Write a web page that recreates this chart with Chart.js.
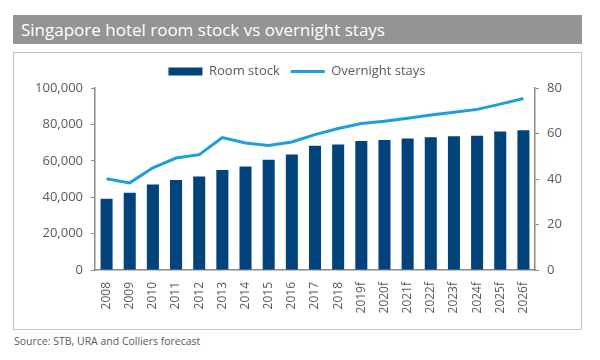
<!DOCTYPE html>
<html>
<head>
<meta charset="utf-8">
<script src="https://cdn.jsdelivr.net/npm/chart.js@4"></script>
<style>
  body { margin: 0; width: 600px; height: 360px; background: #fff; font-family: "Open Sans", sans-serif; position: relative; overflow: hidden; }
  .titleband { position: absolute; left: 13px; top: 15px; width: 569px; height: 29px; background: #949494; color: #fff; font-size: 17px; line-height: 29px; padding-left: 8px; box-sizing: border-box; }
  .box { position: absolute; left: 13px; top: 52px; width: 569px; height: 278px; border: 1.5px solid #c4c4c4; box-sizing: border-box; }
  .box canvas { position: absolute; left: 0; top: 0; }
  .source { position: absolute; left: 14px; top: 334px; font-size: 10.5px; color: #595959; }
</style>
</head>
<body>
<div class="titleband">Singapore hotel room stock vs overnight stays</div>
<div class="box"><canvas id="chart" width="566" height="275"></canvas></div>
<div class="source">Source: STB, URA and Colliers forecast</div>
<script>
// datos
const years = ['2008', '2009', '2010', '2011', '2012', '2013', '2014', '2015', '2016', '2017',
    '2018', '2019f', '2020f', '2021f', '2022f', '2023f', '2024f', '2025f', '2026f'];
const roomStock = [39200, 42500, 47000, 49500, 51400, 54900, 56900, 60600, 63400, 68300,
    69000, 70900, 71400, 72200, 72900, 73500, 73700, 76100, 76800];
const overnightStays = [40.1, 38.3, 44.9, 49.2, 50.7, 58.2, 55.8, 54.7, 56.3, 59.5,
    62.2, 64.4, 65.4, 66.7, 68.1, 69.3, 70.6, 72.9, 75.4];
const leftTicks = [0, 20000, 40000, 60000, 80000, 100000];
const rightTicks = [0, 20, 40, 60, 80];

const NAVY = '#03437c';
const BLUE = '#1e9fd9';
const GREY = '#595959';
const AXIS = '#8a8a8a';

Chart.defaults.font.family = '"Open Sans", sans-serif';
Chart.defaults.color = GREY;

new Chart(document.getElementById('chart'), {
    data: {
        labels: years,
        datasets: [
            {
                type: 'line',
                label: 'Overnight stays',
                data: overnightStays,
                yAxisID: 'y2',
                borderColor: BLUE,
                backgroundColor: BLUE,
                borderWidth: 3,
                pointRadius: 0,
                pointStyle: 'line',
                tension: 0,
                order: 0
            },
            {
                type: 'bar',
                label: 'Room stock',
                data: roomStock,
                yAxisID: 'y',
                backgroundColor: NAVY,
                borderWidth: 0,
                pointStyle: 'rect',
                categoryPercentage: 1,
                barPercentage: 0.52,
                order: 1
            }
        ]
    },
    options: {
        responsive: false,
        animation: false,
        layout: { padding: { top: 1, left: 0, right: 0, bottom: 0 } },
        plugins: {
            legend: {
                reverse: true,
                labels: {
                    usePointStyle: true,
                    pointStyleWidth: 34,
                    boxHeight: 8,
                    padding: 11,
                    font: { size: 13 },
                    color: GREY
                }
            },
            tooltip: { enabled: false }
        },
        scales: {
            x: {
                grid: { display: false },
                border: { display: true, color: AXIS, width: 1.5 },
                ticks: { maxRotation: 90, minRotation: 90, font: { size: 12 }, color: GREY, padding: 4 },
                afterFit: (s) => { s.height = 58; }
            },
            y: {
                position: 'left',
                min: 0,
                max: 100000,
                afterBuildTicks: (s) => { s.ticks = leftTicks.map(v => ({ value: v })); },
                grid: { display: true, drawOnChartArea: false, tickLength: 4, color: AXIS },
                border: { display: true, color: AXIS, width: 1.5 },
                ticks: {
                    font: { size: 13 },
                    color: GREY,
                    padding: 8,
                    callback: (v) => v.toLocaleString('en-US')
                },
                afterFit: (s) => { s.width = 81; }
            },
            y2: {
                position: 'right',
                min: 0,
                max: 80,
                afterBuildTicks: (s) => { s.ticks = rightTicks.map(v => ({ value: v })); },
                grid: { display: true, drawOnChartArea: false, tickLength: 4, color: AXIS },
                border: { display: true, color: AXIS, width: 1.5 },
                ticks: { font: { size: 13 }, color: GREY, padding: 8 },
                afterFit: (s) => { s.width = 45; }
            }
        }
    }
});
</script>
</body>
</html>
